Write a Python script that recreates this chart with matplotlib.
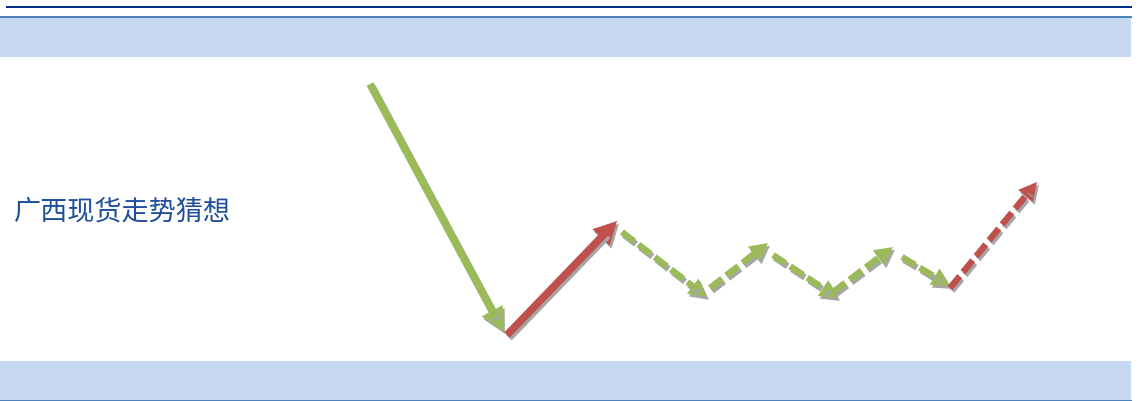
import numpy as np
import matplotlib
matplotlib.use("Agg")
import matplotlib.pyplot as plt
from matplotlib.patches import Rectangle, FancyArrowPatch
import matplotlib.patheffects as pe

plt.rcParams['font.family'] = ['Noto Sans CJK SC', 'DejaVu Sans']
plt.rcParams['lines.scale_dashes'] = False

# ---- data: guessed price path segments (start -> tip), in chart units ----
title = "广西现货走势猜想"
seg_x0 = [370, 507, 622, 710, 773, 833, 902, 950]
seg_y0 = [84, 335, 232, 288, 255, 292, 257, 288]
seg_x1 = [503, 617, 707, 768, 838, 893, 950, 1037]
seg_y1 = [331, 221, 297, 243, 298, 247, 286, 182]
seg_color = ['#9BBB59', '#C0504D', '#9BBB59', '#9BBB59', '#9BBB59', '#9BBB59', '#9BBB59', '#C0504D']
seg_dashed = [False, False, True, True, True, True, True, True]

W, H = 1139, 401
fig = plt.figure(figsize=(W / 100, H / 100), dpi=100)
ax = fig.add_axes([0, 0, 1, 1])
ax.set_xlim(0, W)
ax.set_ylim(H, 0)
ax.axis('off')

# header / footer bands
ax.add_patch(Rectangle((6, 6), 1126, 2.2, color='#003087', lw=0))
ax.add_patch(Rectangle((0, 16), 1132, 2.2, color='#4F81BD', lw=0))
ax.add_patch(Rectangle((0, 18), 1131, 39, color='#C6D9F1', lw=0))
ax.add_patch(Rectangle((0, 361), 1131, 39, color='#C6D9F1', lw=0))
ax.add_patch(Rectangle((0, 399.5), 1132, 1.8, color='#4F81BD', lw=0))

ax.text(14, 212, title, fontsize=19.5, color='#1F4E9A', va='center', ha='left')

shadow = '#A6A6A6'
off = (1.4, -2.0)
for x0, y0, x1, y1, c, d in zip(seg_x0, seg_y0, seg_x1, seg_y1, seg_color, seg_dashed):
    v = np.array([x1 - x0, y1 - y0], float)
    u = v / np.hypot(*v)
    if d:
        hl, hw, lw = 18, 9.5, 4.6
    else:
        hl, hw, lw = 23, 12, 5.5
    se = np.array([x1, y1]) - u * hl * 0.7
    line, = ax.plot([x0, se[0]], [y0, se[1]], color=c, lw=lw,
                    solid_capstyle='butt', dash_capstyle='butt')
    if d:
        line.set_dashes((11.0, 3.8))
    line.set_path_effects([pe.SimpleLineShadow(offset=off, shadow_color=shadow, alpha=1),
                           pe.Normal()])
    pa = np.array([x1, y1]) - u * hl
    arr = FancyArrowPatch(posA=tuple(pa), posB=(x1, y1),
                          arrowstyle=f'-|>,head_length={hl*0.72},head_width={hw*0.72}',
                          mutation_scale=1, lw=0, color=c, shrinkA=0, shrinkB=0,
                          path_effects=[pe.SimplePatchShadow(offset=off, shadow_rgbFace=shadow, alpha=1),
                                        pe.Normal()])
    ax.add_patch(arr)

fig.savefig('out.png', dpi=100)
